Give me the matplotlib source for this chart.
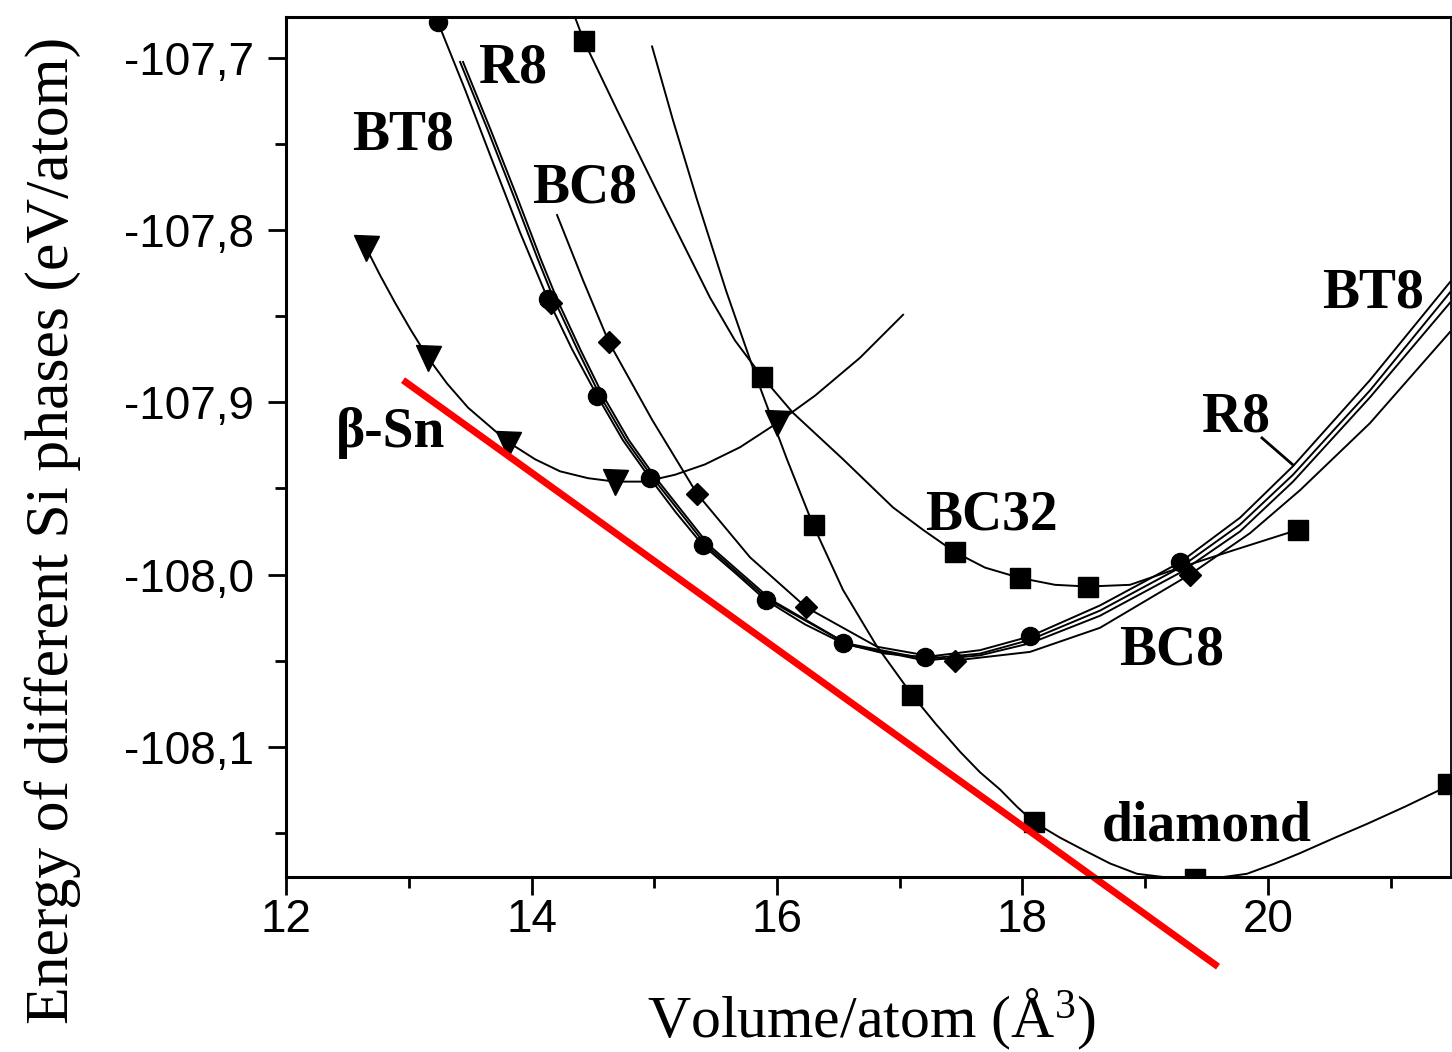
import matplotlib.pyplot as plt

plt.rcParams['font.family'] = 'Liberation Serif'
plt.rcParams['mathtext.default'] = 'regular'

# beta-Sn (down triangles)
bsn_curve_v = [12.652, 12.766, 12.888, 13.018, 13.157, 13.312, 13.483, 13.662, 13.809, 14.029, 14.232, 14.460, 14.680,
               14.925, 15.169, 15.413, 15.699, 16.000, 16.310, 16.676, 17.027]
bsn_curve_e = [-107.810, -107.826, -107.842, -107.858, -107.874, -107.889, -107.903, -107.914, -107.923, -107.933, -107.940,
               -107.944, -107.946, -107.946, -107.942, -107.936, -107.926, -107.912, -107.896, -107.874, -107.849]
bsn_pts_v = [12.652, 13.157, 13.809, 14.680, 16.000]
bsn_pts_e = [-107.810, -107.874, -107.924, -107.946, -107.912]

# BT8 (circles)
bt8_curve_v = [13.238, 13.458, 13.678, 13.906, 14.134, 14.330, 14.534, 14.745, 14.965, 15.177, 15.397, 15.658, 15.910,
               16.228, 16.538, 16.880, 17.206, 17.654, 18.061, 18.631, 19.283, 19.772, 20.204, 20.831, 21.483]
bt8_curve_e = [-107.679, -107.718, -107.759, -107.801, -107.840, -107.869, -107.896, -107.922, -107.944, -107.964, -107.983,
               -107.999, -108.015, -108.029, -108.040, -108.046, -108.048, -108.044, -108.036, -108.018, -107.993, -107.967,
               -107.937, -107.887, -107.830]
bt8_pts_v = [13.238, 14.134, 14.534, 14.965, 15.397, 15.910, 16.538, 17.206, 18.061, 19.283]
bt8_pts_e = [-107.679, -107.840, -107.896, -107.944, -107.983, -108.015, -108.040, -108.048, -108.036, -107.993]

# R8 (two close lines)
r8a_curve_v = [13.418, 13.646, 13.849, 14.053, 14.183, 14.379, 14.558, 14.770, 14.990, 15.422, 15.935, 16.562, 17.206,
               17.654, 18.061, 18.631, 19.283, 19.772, 20.204, 20.831, 21.483]
r8a_curve_e = [-107.702, -107.742, -107.779, -107.817, -107.840, -107.870, -107.896, -107.922, -107.944, -107.983, -108.015,
               -108.040, -108.049, -108.046, -108.038, -108.021, -107.996, -107.971, -107.942, -107.893, -107.836]
r8b_curve_v = [13.442, 13.670, 13.874, 14.077, 14.208, 14.403, 14.583, 14.794, 15.014, 15.446, 15.959, 16.587, 17.206,
               17.654, 18.061, 18.631, 19.283, 19.772, 20.204, 20.831, 21.483]
r8b_curve_e = [-107.702, -107.742, -107.779, -107.817, -107.840, -107.870, -107.896, -107.922, -107.944, -107.983, -108.015,
               -108.041, -108.050, -108.047, -108.040, -108.024, -107.999, -107.975, -107.946, -107.897, -107.842]
r8_pts_v = [14.159]
r8_pts_e = [-107.842]

# BC8 (diamonds)
bc8_curve_v = [14.208, 14.420, 14.631, 14.982, 15.348, 15.780, 16.236, 16.815, 17.450, 18.061, 18.631, 19.365, 19.853,
               20.261, 20.831, 21.483]
bc8_curve_e = [-107.791, -107.829, -107.865, -107.910, -107.953, -107.990, -108.019, -108.042, -108.050, -108.045, -108.031,
               -108.000, -107.976, -107.951, -107.912, -107.859]
bc8_pts_v = [14.631, 15.348, 16.236, 17.450, 19.365]
bc8_pts_e = [-107.865, -107.953, -108.019, -108.050, -108.000]

# BC32 (squares)
bc32_curve_v = [14.354, 14.428, 14.697, 15.055, 15.454, 15.658, 15.878, 16.130, 16.538, 16.945, 17.189, 17.450, 17.695,
                17.980, 18.265, 18.534, 18.876, 19.120, 19.283, 19.715, 20.244]
bc32_curve_e = [-107.676, -107.690, -107.730, -107.782, -107.839, -107.864, -107.885, -107.906, -107.933, -107.961, -107.974,
                -107.987, -107.996, -108.002, -108.006, -108.007, -108.006, -108.000, -107.996, -107.986, -107.974]
bc32_pts_v = [14.428, 15.878, 17.450, 17.980, 18.534, 20.244]
bc32_pts_e = [-107.690, -107.885, -107.987, -108.002, -108.007, -107.974]

# diamond structure (squares)
dia_curve_v = [14.982, 15.153, 15.348, 15.585, 15.829, 16.081, 16.293, 16.538, 16.807, 17.100, 17.295, 17.491, 17.654,
               17.817, 17.955, 18.094, 18.306, 18.493, 18.713, 18.933, 19.161, 19.405, 19.625, 19.829, 20.057, 20.261,
               20.546, 20.807, 21.116, 21.466]
dia_curve_e = [-107.693, -107.736, -107.782, -107.835, -107.885, -107.933, -107.971, -108.009, -108.041, -108.070, -108.087,
               -108.103, -108.115, -108.125, -108.135, -108.144, -108.153, -108.160, -108.168, -108.174, -108.176, -108.178,
               -108.176, -108.174, -108.168, -108.162, -108.153, -108.145, -108.135, -108.123]
dia_pts_v = [16.300, 17.100, 18.094, 19.405, 21.466]
dia_pts_e = [-107.971, -108.070, -108.144, -108.177, -108.122]

# red common tangent
tangent_v = [12.953, 19.593]
tangent_e = [-107.887, -108.228]

# pointer for the R8 label on the right
r8_pointer_v = [19.951, 20.204]
r8_pointer_e = [-107.9206, -107.9363]

labels = ['R8', 'BT8', 'BC8', '\u03b2-Sn', 'BC32', 'R8', 'BT8', 'BC8', 'diamond']
label_v = [13.849, 12.953, 14.436, 12.855, 17.743, 19.739, 20.855, 19.218, 19.503]
label_e = [-107.7137, -107.7532, -107.784, -107.9259, -107.974, -107.917, -107.845, -108.0526, -108.1544]

yticks = [-108.1, -108.0, -107.9, -107.8, -107.7]
ytick_labels = ['-108,1', '-108,0', '-107,9', '-107,8', '-107,7']
xticks = [12, 14, 16, 18, 20]

fig = plt.figure(figsize=(14.52, 10.52), dpi=100)
ax = fig.add_axes([0.197, 0.1663, 0.8023, 0.8175])

lw = 1.4
ax.plot(bsn_curve_v, bsn_curve_e, color='black', lw=lw)
ax.plot(bt8_curve_v, bt8_curve_e, color='black', lw=lw)
ax.plot(r8a_curve_v, r8a_curve_e, color='black', lw=lw)
ax.plot(r8b_curve_v, r8b_curve_e, color='black', lw=lw)
ax.plot(bc8_curve_v, bc8_curve_e, color='black', lw=lw)
ax.plot(bc32_curve_v, bc32_curve_e, color='black', lw=lw)
ax.plot(dia_curve_v, dia_curve_e, color='black', lw=lw)

ax.plot(bsn_pts_v, bsn_pts_e, 'v', color='black', ms=18)
ax.plot(bt8_pts_v, bt8_pts_e, 'o', color='black', ms=13)
ax.plot(r8_pts_v, r8_pts_e, 'D', color='black', ms=11)
ax.plot(bc8_pts_v, bc8_pts_e, 'D', color='black', ms=11)
ax.plot(bc32_pts_v, bc32_pts_e, 's', color='black', ms=14)
ax.plot(dia_pts_v, dia_pts_e, 's', color='black', ms=14)

ax.plot(r8_pointer_v, r8_pointer_e, color='black', lw=2)
ax.plot(tangent_v, tangent_e, color='red', lw=5, clip_on=False, solid_capstyle='butt')

for txt, v, e in zip(labels, label_v, label_e):
    ax.text(v, e, txt, fontsize=40, fontweight='bold', ha='center', va='baseline')

ax.set_xlim(12, 21.491)
ax.set_ylim(-108.1759, -107.6759)

ax.set_xticks(xticks)
ax.set_xticklabels([str(t) for t in xticks])
ax.set_xticks([13, 15, 17, 19, 21], minor=True)
ax.set_yticks(yticks)
ax.set_yticklabels(ytick_labels)
ax.set_yticks([-108.15, -108.05, -107.95, -107.85, -107.75], minor=True)
ax.tick_params(which='both', direction='out', width=2, top=False, right=False)
ax.tick_params(which='major', length=13)
ax.tick_params(which='minor', length=8)
ax.tick_params(axis='y', pad=10)
ax.tick_params(axis='x', pad=2)
for lab in ax.get_xticklabels() + ax.get_yticklabels():
    lab.set_fontfamily('Liberation Sans')
    lab.set_fontsize(33)

for side in ['left', 'bottom', 'top']:
    ax.spines[side].set_linewidth(2.2)
ax.spines['right'].set_linewidth(1.3)

fig.text(0.600, 0.014, 'Volume/atom (\u00c5$^{3}$)', fontsize=43, ha='center', va='baseline')
fig.text(0.036, 0.496, 'Energy of different Si phases (eV/atom)', fontsize=44.5, rotation=90,
         ha='center', va='center')

plt.savefig('out.png', dpi=100)
